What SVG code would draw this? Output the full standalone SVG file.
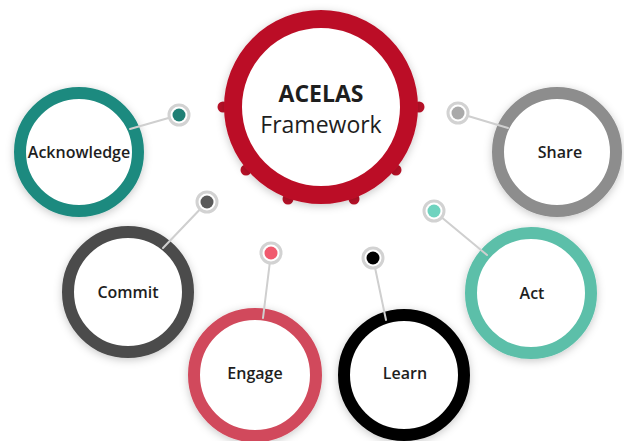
<svg xmlns="http://www.w3.org/2000/svg" width="624" height="441" viewBox="0 0 624 441">
  <defs>
    <filter id="soft" x="-30%" y="-30%" width="160%" height="160%">
      <feDropShadow dx="0" dy="2" stdDeviation="4" flood-color="#000" flood-opacity="0.22"/>
    </filter>
    <style>
      .ring { fill: #fff; stroke-width: 12; filter: url(#soft); }
      .hub { fill: #fff; stroke: #bb1128; stroke-width: 18; filter: url(#soft); }
      .knob { fill: #bb1128; }
      .label { font-family: "Open Sans", "Liberation Sans", sans-serif; font-weight: 600; font-size: 16px; fill: #1e1e1e; text-anchor: middle; }
      .title { font-family: "Open Sans", "Liberation Sans", sans-serif; font-size: 23px; fill: #1e1e1e; text-anchor: middle; }
      .pin { fill: #fff; stroke: #d2d2d2; stroke-width: 3; }
      .link { stroke: #cfcfcf; stroke-width: 2; fill: none; stroke-linecap: round; }
    </style>
  </defs>

  <rect width="624" height="441" fill="#fff"/>

  <!-- central hub with its six studs -->
  <g id="hub">
    <g class="knob">
      <circle cx="223" cy="107" r="5.5"/>
      <circle cx="419" cy="107" r="5.5"/>
      <circle cx="246" cy="170" r="5.5"/>
      <circle cx="396" cy="170" r="5.5"/>
      <circle cx="288" cy="199" r="5.5"/>
      <circle cx="354" cy="199" r="5.5"/>
    </g>
    <circle class="hub" cx="321" cy="107" r="88"/>
    <text class="title" x="321" y="102" font-weight="700">ACELAS</text>
    <text class="title" x="321" y="133">Framework</text>
  </g>

  <!-- outer nodes -->
  <g id="acknowledge">
    <circle class="ring" cx="79" cy="152" r="59" stroke="#1e8a7f"/>
    <text class="label" x="79" y="158">Acknowledge</text>
  </g>
  <g id="commit">
    <circle class="ring" cx="128" cy="292" r="60" stroke="#4b4b4b"/>
    <text class="label" x="128" y="298">Commit</text>
  </g>
  <g id="engage">
    <circle class="ring" cx="255" cy="375" r="61" stroke="#d14a5c"/>
    <text class="label" x="255" y="379">Engage</text>
  </g>
  <g id="learn">
    <circle class="ring" cx="404" cy="375" r="60" stroke="#050505"/>
    <text class="label" x="405" y="379">Learn</text>
  </g>
  <g id="act">
    <circle class="ring" cx="531" cy="293" r="60" stroke="#5bbfa9"/>
    <text class="label" x="532" y="299">Act</text>
  </g>
  <g id="share">
    <circle class="ring" cx="557" cy="152" r="59" stroke="#8d8d8d"/>
    <text class="label" x="560" y="158">Share</text>
  </g>

  <!-- connectors with their end pins -->
  <g id="connectors">
    <line class="link" x1="179" y1="115" x2="130" y2="129"/>
    <line class="link" x1="207" y1="202" x2="163" y2="248"/>
    <line class="link" x1="271" y1="253" x2="263" y2="318"/>
    <line class="link" x1="373" y1="258" x2="386" y2="320"/>
    <line class="link" x1="434" y1="211" x2="487" y2="255"/>
    <line class="link" x1="458" y1="113" x2="508" y2="128"/>

    <circle class="pin" cx="179" cy="115" r="10"/>
    <circle cx="179" cy="115" r="6.5" fill="#1f7f75"/>
    <circle class="pin" cx="207" cy="202" r="10"/>
    <circle cx="207" cy="202" r="6.5" fill="#5a5a5a"/>
    <circle class="pin" cx="271" cy="253" r="10"/>
    <circle cx="271" cy="253" r="6.5" fill="#f05a6e"/>
    <circle class="pin" cx="373" cy="258" r="10"/>
    <circle cx="373" cy="258" r="6.5" fill="#000"/>
    <circle class="pin" cx="434" cy="211" r="10"/>
    <circle cx="434" cy="211" r="6.5" fill="#6fd3bf"/>
    <circle class="pin" cx="458" cy="113" r="10"/>
    <circle cx="458" cy="113" r="6.5" fill="#aaaaaa"/>
  </g>
</svg>
